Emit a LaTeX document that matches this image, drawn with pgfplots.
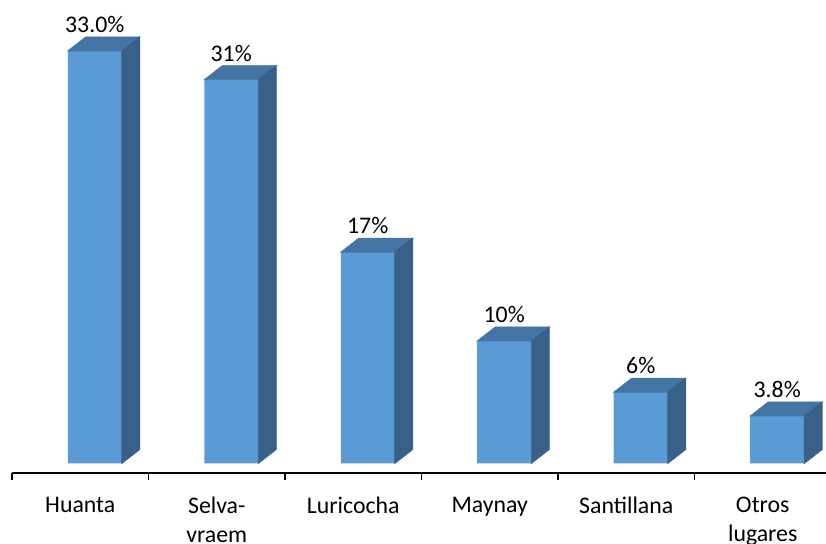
\documentclass[border=0pt]{standalone}
\usepackage{pgfplots}
\pgfplotsset{compat=1.18}
\usepackage{fontspec}
\setmainfont{Carlito}
\definecolor{front}{RGB}{91,155,213}
\definecolor{topc}{RGB}{68,116,164}
\definecolor{sidec}{RGB}{56,96,136}
\pgfdeclareplotmark{nothing}{}
\begin{document}
\fontsize{11.9}{14.3}\selectfont
\begin{tikzpicture}
\begin{axis}[
  name=ax,
  x=68.25pt, y=6.25pt,
  xmin=-0.5, xmax=5.4634, ymin=-0.76, ymax=37.08,
  axis x line=bottom, axis y line=none,
  axis line style={-, line width=0.9pt, black},
  tick align=outside,
  xtick={0,...,5},
  xticklabels={Huanta, {Selva-\\vraem}, Luricocha, Maynay, Santillana, {Otros\\lugares}},
  xticklabel style={align=center, anchor=north, inner sep=0pt, yshift=-11.9pt, font=\fontsize{11.9}{14.3}\selectfont},
  major tick length=0pt,
  extra x ticks={-0.5,0.5,1.5,2.5,3.5,4.5},
  extra x tick labels={},
  extra x tick style={major tick length=3.5pt, tick style={black, line width=0.8pt}},
  clip=false,
]
\addplot[ybar, bar width=27pt, bar shift=7.25pt, fill=front, draw=none,
  nodes near coords, point meta=explicit symbolic,
  every node near coord/.append style={anchor=base, xshift=7.25pt, yshift=9.3pt, text=black, font=\fontsize{11.9}{14.3}\selectfont}]
  coordinates {(0,33) [33.0\%] (1,30.7) [31\%] (2,16.9) [17\%] (3,9.8) [10\%] (4,5.7) [6\%] (5,3.8) [3.8\%]};
\addplot[scatter, only marks, mark=nothing,
  visualization depends on={rawy \as \val},
  scatter/@pre marker code/.code={%
    \pgfmathsetmacro\hn{-\val*6.25}%
    \pgfmathsetmacro\hb{7-\val*6.25}%
    \fill[topc] (-6.25pt,0pt) -- (20.75pt,0pt) -- (29.75pt,7pt) -- (2.75pt,7pt) -- cycle;
    \fill[sidec] (20.75pt,0pt) -- (29.75pt,7pt) -- (29.75pt,\hb pt) -- (20.75pt,\hn pt) -- cycle;
  },
  scatter/@post marker code/.code={}]
  coordinates {(0,33) (1,30.7) (2,16.9) (3,9.8) (4,5.7) (5,3.8)};
\end{axis}
\pgfresetboundingbox
\path ([xshift=-6pt]ax.north west) rectangle ([yshift=-35.5pt]ax.south east);
\end{tikzpicture}
\end{document}
